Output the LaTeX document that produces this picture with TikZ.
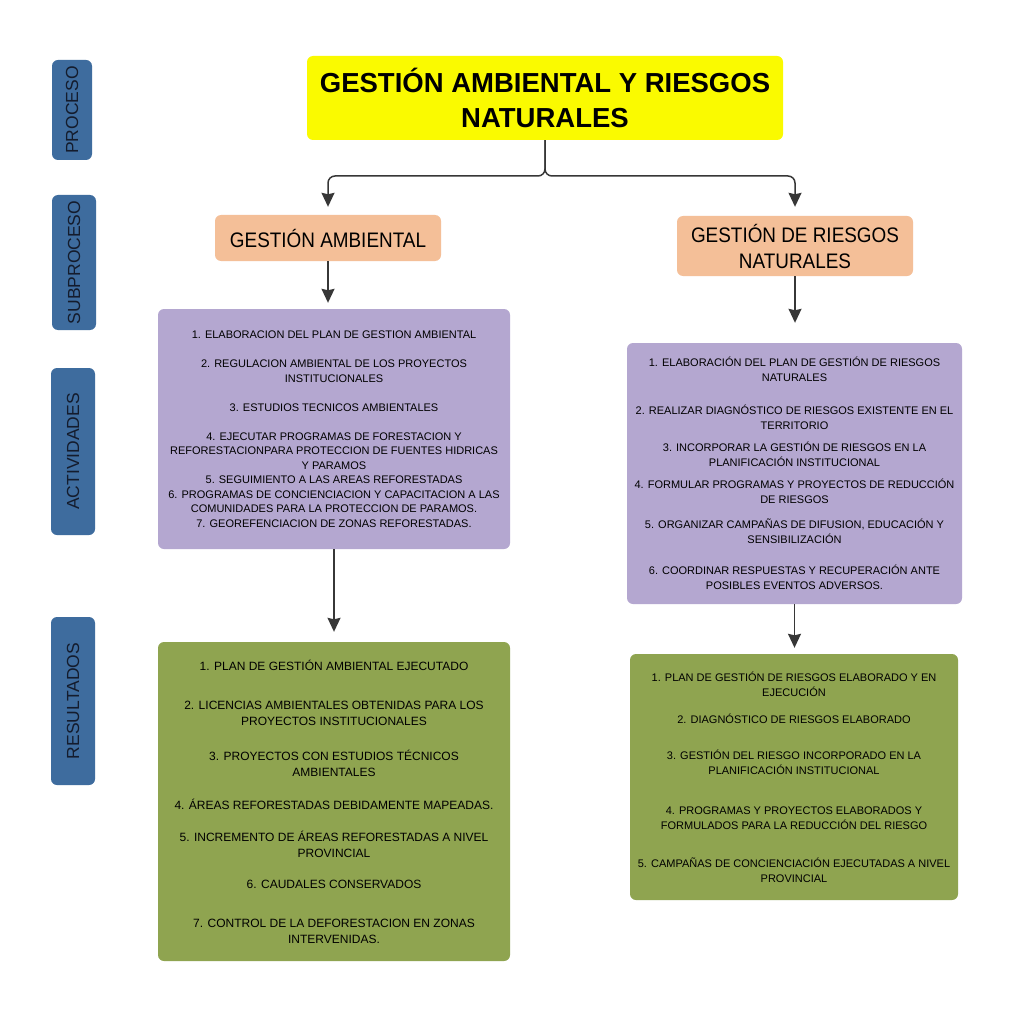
\documentclass[tikz,border=0pt]{standalone}
\usepackage{fontspec}
\setmainfont{Liberation Sans}
\newfontfamily\narrowsf{Liberation Sans}[FakeStretch=0.9]
\usepackage{xcolor}
\usepackage{tikz}
\usetikzlibrary{arrows.meta}
\definecolor{titleyellow}{RGB}{250,250,0}
\definecolor{subsalmon}{RGB}{244,191,152}
\definecolor{actlilac}{RGB}{180,167,208}
\definecolor{resgreen}{RGB}{143,164,80}
\definecolor{sideblue}{RGB}{62,108,158}
\definecolor{sidetext}{RGB}{20,28,45}
\definecolor{linkgray}{RGB}{55,55,55}
\tikzset{box/.style={rounded corners=6pt, align=center, inner sep=0pt},
    sidebox/.style={box, fill=sideblue, text=sidetext, rotate=90,
    font=\fontsize{17.5}{20}\selectfont},
    link/.style={draw=linkgray, line width=1.5pt,
    -{Stealth[length=14pt,width=13pt,inset=1.5pt]}}}

\begin{document}
\begin{tikzpicture}[x=1pt,y=-1pt]

                    \fill[white] (0,0) rectangle (1012,1024);

                    \node[sidebox, minimum width=100pt, minimum height=40pt] (P) at (72,110) {PROCESO};
                    \node[sidebox, minimum width=135pt, minimum height=44pt] (S) at (74,262.5) {SUBPROCESO};
                    \node[sidebox, minimum width=167pt, minimum height=44pt] (A) at (73,451.5) {ACTIVIDADES};
                    \node[sidebox, minimum width=168pt, minimum height=44pt] (R) at (73,701) {RESULTADOS};

                    \node[box, fill=titleyellow, minimum width=476pt, minimum height=84pt, font=\bfseries\fontsize{27.5}{35}\selectfont] (T) at (545,98) {GESTIÓN AMBIENTAL Y RIESGOS\\NATURALES};
                    \node[box, fill=subsalmon, minimum width=226pt, minimum height=46pt, font=\narrowsf\fontsize{21}{26}\selectfont] (G1) at (328,238) {GESTIÓN AMBIENTAL};
                    \node[box, fill=subsalmon, minimum width=236pt, minimum height=60pt, font=\narrowsf\fontsize{21}{26}\selectfont] (G2) at (795,246) {GESTIÓN DE RIESGOS\\NATURALES};

                    \node[box, fill=actlilac, minimum width=352pt, minimum height=240pt, font=\fontsize{11}{14.5}\selectfont] (A1) at (334,429) {1. ELABORACION DEL PLAN DE GESTION AMBIENTAL\\[14.5pt]
                        2. REGULACION AMBIENTAL DE LOS PROYECTOS\\INSTITUCIONALES\\[14.5pt]
                        3. ESTUDIOS TECNICOS AMBIENTALES\\[14.5pt]
                        4. EJECUTAR PROGRAMAS DE FORESTACION Y\\REFORESTACIONPARA PROTECCION DE FUENTES HIDRICAS\\Y PARAMOS\\
                        5. SEGUIMIENTO A LAS AREAS REFORESTADAS\\
                        6. PROGRAMAS DE CONCIENCIACION Y CAPACITACION A LAS\\COMUNIDADES PARA LA PROTECCION DE PARAMOS.\\
                        7. GEOREFENCIACION DE ZONAS REFORESTADAS.};
                    \node[box, fill=actlilac, minimum width=335pt, minimum height=261pt, font=\fontsize{11}{15}\selectfont] (A2) at (794.5,473.5) {1. ELABORACIÓN DEL PLAN DE GESTIÓN DE RIESGOS\\NATURALES\\[18pt]
                        2. REALIZAR DIAGNÓSTICO DE RIESGOS EXISTENTE EN EL\\TERRITORIO\\[7pt]
                        3. INCORPORAR LA GESTIÓN DE RIESGOS EN LA\\PLANIFICACIÓN INSTITUCIONAL\\[7pt]
                        4. FORMULAR PROGRAMAS Y PROYECTOS DE REDUCCIÓN\\DE RIESGOS\\[10pt]
                        5. ORGANIZAR CAMPAÑAS DE DIFUSION, EDUCACIÓN Y\\SENSIBILIZACIÓN\\[16pt]
                        6. COORDINAR RESPUESTAS Y RECUPERACIÓN ANTE\\POSIBLES EVENTOS ADVERSOS.};

                    \node[box, fill=resgreen, minimum width=352pt, minimum height=319pt, font=\fontsize{12}{16}\selectfont] (R1) at (334,801.5) {1. PLAN DE GESTIÓN AMBIENTAL EJECUTADO\\[23pt]
                        2. LICENCIAS AMBIENTALES OBTENIDAS PARA LOS\\PROYECTOS INSTITUCIONALES\\[19pt]
                        3. PROYECTOS CON ESTUDIOS TÉCNICOS\\AMBIENTALES\\[17pt]
                        4. ÁREAS REFORESTADAS DEBIDAMENTE MAPEADAS.\\[16pt]
                        5. INCREMENTO DE ÁREAS REFORESTADAS A NIVEL\\PROVINCIAL\\[15pt]
                        6. CAUDALES CONSERVADOS\\[23pt]
                        7. CONTROL DE LA DEFORESTACION EN ZONAS\\INTERVENIDAS.};
                    \node[box, fill=resgreen, minimum width=328pt, minimum height=246pt, font=\fontsize{11}{15}\selectfont] (R2) at (794,777) {1. PLAN DE GESTIÓN DE RIESGOS ELABORADO Y EN\\EJECUCIÓN\\[12pt]
                        2. DIAGNÓSTICO DE RIESGOS ELABORADO\\[21pt]
                        3. GESTIÓN DEL RIESGO INCORPORADO EN LA\\PLANIFICACIÓN INSTITUCIONAL\\[25pt]
                        4. PROGRAMAS Y PROYECTOS ELABORADOS Y\\FORMULADOS PARA LA REDUCCIÓN DEL RIESGO\\[23pt]
                        5. CAMPAÑAS DE CONCIENCIACIÓN EJECUTADAS A NIVEL\\PROVINCIAL};

                    \coordinate (J) at (545,176);
                    \draw[link, rounded corners=7pt, shorten >=8pt] (T.south) |- (G1.north |- J) -- (G1.north);
                    \draw[link, rounded corners=7pt, shorten >=9pt] (T.south) |- (G2.north |- J) -- (G2.north);
                    \draw[link, shorten >=6pt] (G1.south) -- (G1.south |- A1.north);
                    \draw[link, shorten >=20pt] (G2.south) -- (G2.south |- A2.north);
                    \draw[link, shorten >=10pt] (A1.south) -- (R1.north);
                    \draw[link, shorten >=6pt] (A2.south) -- (A2.south |- R2.north);

                \end{tikzpicture}
\end{document}
